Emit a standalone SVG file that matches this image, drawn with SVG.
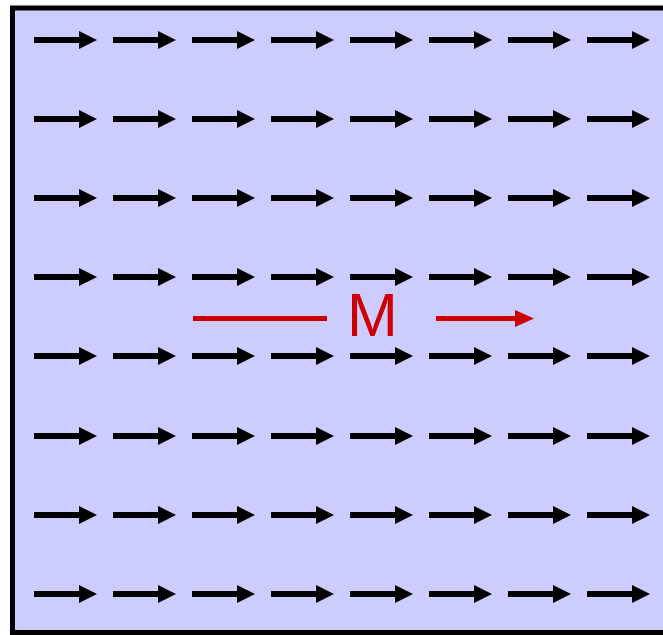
<svg xmlns="http://www.w3.org/2000/svg" xmlns:xlink="http://www.w3.org/1999/xlink" width="663" height="635" viewBox="0 0 663 635">
<defs>
<style>
.shaft{stroke:#000;stroke-width:6;fill:none}
.head{fill:#000}
.red{stroke:#cc0000;stroke-width:5;fill:none}
</style>
<g id="a">
<line class="shaft" x1="34" y1="0" x2="81" y2="0"/>
<polygon class="head" points="79,-9 97,0 79,9"/>
</g>
<g id="row">
<use xlink:href="#a" x="0"/>
<use xlink:href="#a" x="79"/>
<use xlink:href="#a" x="158"/>
<use xlink:href="#a" x="237"/>
<use xlink:href="#a" x="316"/>
<use xlink:href="#a" x="395"/>
<use xlink:href="#a" x="474"/>
<use xlink:href="#a" x="553"/>
</g>
</defs>
<g id="box">
<rect x="12.5" y="8" width="670" height="624.5" fill="#ccccff" stroke="#000" stroke-width="5"/>
</g>
<g id="connectors">
<use xlink:href="#row" y="40"/>
<use xlink:href="#row" y="119"/>
<use xlink:href="#row" y="198"/>
<use xlink:href="#row" y="277"/>
<use xlink:href="#row" y="356"/>
<use xlink:href="#row" y="436"/>
<use xlink:href="#row" y="515"/>
<use xlink:href="#row" y="594"/>
</g>
<g id="magnetization">
<line class="red" x1="193" y1="318.5" x2="327" y2="318.5"/>
<line class="red" x1="436" y1="318.5" x2="517" y2="318.5"/>
<polygon fill="#cc0000" points="515,310 534,318.5 515,327"/>
<text x="372.5" y="336" font-family="Liberation Sans, Arial, sans-serif" font-size="61" fill="#cc0000" text-anchor="middle">M</text>
</g>
</svg>
